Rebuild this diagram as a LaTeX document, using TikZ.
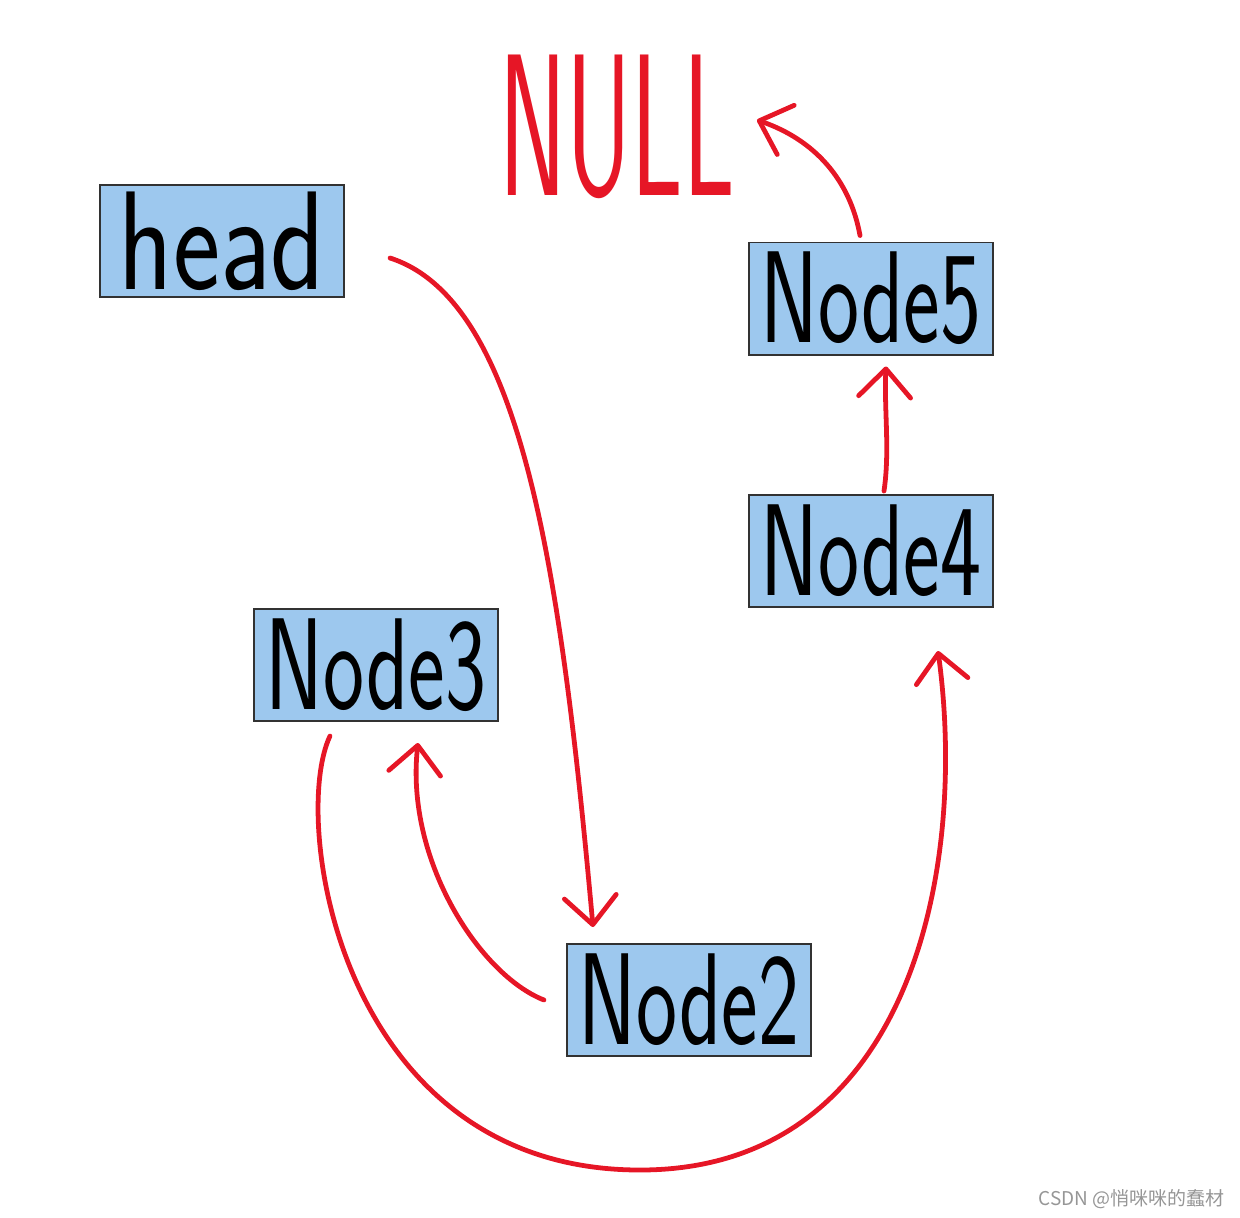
\documentclass[tikz,border=0pt]{standalone}
\usepackage{fontspec}
\usepackage{graphicx}
\usetikzlibrary{arrows.meta}
\newfontfamily\cjk{Noto Sans CJK SC}
\definecolor{boxblue}{RGB}{157,200,238}
\definecolor{boxline}{RGB}{50,50,50}
\definecolor{penred}{RGB}{230,22,38}
\definecolor{markgray}{RGB}{150,150,150}

\begin{document}
\begin{tikzpicture}[x=0.025cm, y=-0.025cm,
    listnode/.style={draw=boxline, line width=1.4pt, fill=boxblue, minimum width=6.1cm, minimum height=2.8cm, inner sep=0pt, font=\fontsize{62}{64}\selectfont\sffamily},
    link/.style={draw=penred, line width=3.4pt, line cap=round, line join=round, -{Straight Barb[round, length=0.7cm, width=1.3cm]}}]
		    \useasboundingbox (0,0) rectangle (1240,1217);
		    
		    \node [listnode, font=\fontsize{80}{82}\selectfont\sffamily] (head) at (222,241) {\scalebox{1}[1.25]{head}};
		    \node [listnode] (Node5) at (871,298.5) {\scalebox{1}[1.5]{Node5}};
		    \node [listnode] (Node4) at (871,551) {\scalebox{1}[1.5]{Node4}};
		    \node [listnode] (Node3) at (376,665) {\scalebox{1}[1.5]{Node3}};
		    \node [listnode] (Node2) at (689,1000) {\scalebox{1}[1.5]{Node2}};
		    
		    \node [text=penred, inner sep=0pt, font=\fontsize{72}{74}\selectfont\sffamily] (null) at (617,127) {\scalebox{1}[2.0]{NULL}};
		    
			\draw [link] ([shift={(45,17)}]head.east) .. controls (520,300) and (560,560) .. ([shift={(-96,-16)}]Node2.north);
			\draw [link] ([shift={(-22,0)}]Node2.west) .. controls (480,975) and (405,860) .. ([shift={(42,21)}]Node3.south);
			\draw [link] ([shift={(-46,14)}]Node3.south) .. controls (290,820) and (340,1170) .. (640,1170)
			    .. controls (910,1170) and (968,870) .. ([shift={(67,43)}]Node4.south);
			\draw [link] ([shift={(13,-3)}]Node4.north) .. controls (890,450) and (884,410) .. ([shift={(15,11)}]Node5.south);
			\draw [link] ([shift={(-11,-6)}]Node5.north) .. controls (850,180) and (815,140) .. ([shift={(22,-7)}]null.east);
			
			\node [anchor=base east, inner sep=0pt, text=markgray, font=\cjk\fontsize{13.5}{14}\selectfont] (mark) at (1225,1205) {CSDN @悄咪咪的蠢材};
		\end{tikzpicture}
\end{document}
